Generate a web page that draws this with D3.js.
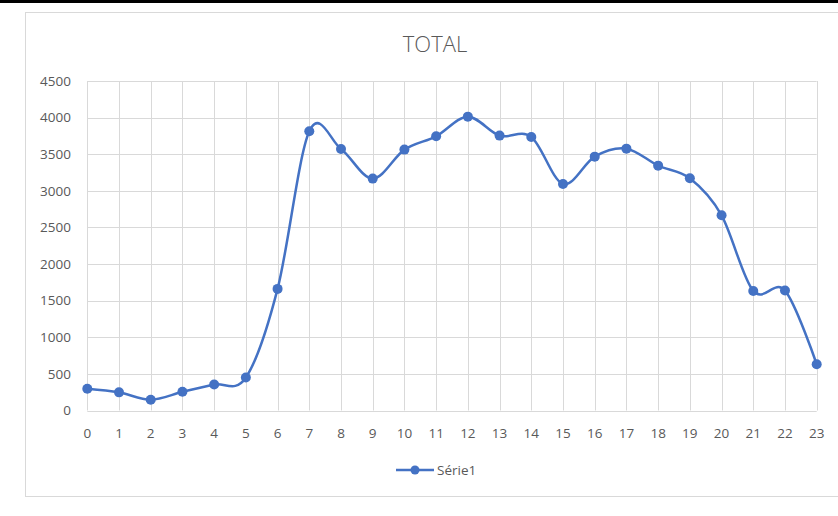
<!DOCTYPE html>
<html><head><meta charset="utf-8">
<script src="https://cdn.jsdelivr.net/npm/d3@7"></script>
<style>body{margin:0;background:#fff;} svg{display:block;}</style>
</head><body>
<svg id="c" width="838" height="516"></svg>
<script>
const categories = [0,1,2,3,4,5,6,7,8,9,10,11,12,13,14,15,16,17,18,19,20,21,22,23];
const serie1 = [298,248,148,255,355,450,1661,3813,3572,3167,3563,3745,4013,3754,3736,3094,3467,3576,3344,3171,2666,1633,1638,632];
const yTicks = [0,500,1000,1500,2000,2500,3000,3500,4000,4500];
const title = "TOTAL";
const seriesName = "Série1";

const svg = d3.select("#c");
const font = "'Open Sans', sans-serif";
const textCol = "#595959";
const gridCol = "#d9d9d9";
const blue = "#4472C4";

// top black strip
svg.append("rect").attr("x",0).attr("y",0).attr("width",838).attr("height",3).attr("fill","#000");
// chart border
svg.append("rect").attr("x",25.5).attr("y",12.5).attr("width",830).attr("height",484)
  .attr("fill","#fff").attr("stroke",gridCol).attr("stroke-width",1);

const x = d3.scaleLinear().domain([0,23]).range([87.3,816.7]);
const y = d3.scaleLinear().domain([0,4500]).range([410.5,81]);

// horizontal grid
svg.append("g").selectAll("line").data(yTicks).join("line")
  .attr("x1",x(0)).attr("x2",x(23)).attr("y1",d=>Math.round(y(d))+0.5).attr("y2",d=>Math.round(y(d))+0.5)
  .attr("stroke",gridCol).attr("stroke-width",1);
// vertical grid
svg.append("g").selectAll("line").data(categories).join("line")
  .attr("y1",y(4500)).attr("y2",y(0)).attr("x1",d=>Math.round(x(d))+0.5).attr("x2",d=>Math.round(x(d))+0.5)
  .attr("stroke",gridCol).attr("stroke-width",1);

// y labels
svg.append("g").selectAll("text").data(yTicks).join("text")
  .attr("x",71).attr("y",d=>y(d)).attr("dy","0.35em").attr("text-anchor","end")
  .attr("font-family",font).attr("font-size",13.5).attr("fill",textCol).text(d=>d);
// x labels
svg.append("g").selectAll("text").data(categories).join("text")
  .attr("x",d=>x(d)).attr("y",433).attr("dy","0.35em").attr("text-anchor","middle")
  .attr("font-family",font).attr("font-size",13.5).attr("fill",textCol).text(d=>d);

// title
svg.append("text").attr("x",435).attr("y",44).attr("dy","0.35em").attr("text-anchor","middle")
  .attr("font-family",font).attr("font-weight",300).attr("font-size",22).attr("fill",textCol).text(title);

// line
const line = d3.line().x((d,i)=>x(categories[i])).y(d=>y(d)).curve(d3.curveCatmullRom.alpha(0));
svg.append("path").datum(serie1).attr("d",line).attr("fill","none").attr("stroke",blue)
  .attr("stroke-width",2.5).attr("stroke-linecap","round");
svg.append("g").selectAll("circle").data(serie1).join("circle")
  .attr("cx",(d,i)=>x(categories[i])).attr("cy",d=>y(d)).attr("r",5).attr("fill",blue);

// legend
const ly = 470;
svg.append("line").attr("x1",396).attr("x2",434).attr("y1",ly).attr("y2",ly).attr("stroke",blue).attr("stroke-width",2.5);
svg.append("circle").attr("cx",415).attr("cy",ly).attr("r",4.5).attr("fill",blue);
svg.append("text").attr("x",437).attr("y",ly).attr("dy","0.35em").attr("font-family",font)
  .attr("font-size",13.5).attr("fill",textCol).text(seriesName);
</script>
</body></html>
